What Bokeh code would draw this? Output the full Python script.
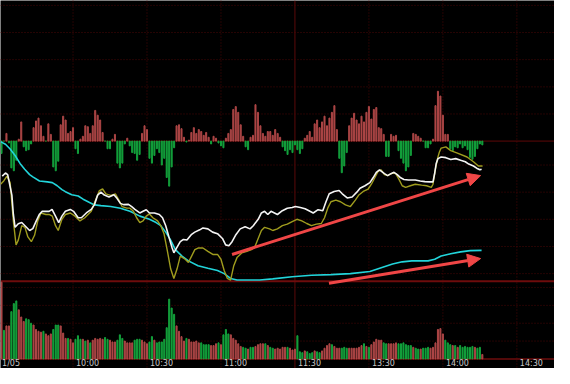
from bokeh.plotting import figure
from bokeh.models import Range1d, Span, Arrow, NormalHead, ColumnDataSource
from bokeh.core.properties import value
from bokeh.embed import file_html
from bokeh.resources import INLINE

# ---------------- data ----------------
label_minutes = [0, 30, 60, 90, 120, 150, 180, 210]
time_labels = ["1/05", "10:00", "10:30", "11:00", "11:30", "13:30", "14:00", "14:30"]

# oscillator histogram, one value per minute (t = 1 .. 196)
hist_vals = [
    -13, 0, 8, -2, -28, -31, -20, 2, 20, -6,
    -10, -9, -3, 14, 21, 24, 16, 5, 0, 18,
    7, -27, -31, -21, 17, 26, 22, 8, 10, 14,
    -8, -13, 2, 5, 16, 15, 8, 16, 32, 27,
    22, 9, 0, -8, -8, 2, 7, -23, -28, -23,
    -3, 3, -5, -12, -13, -20, -14, 8, 16, 12,
    -18, -23, -15, -8, -12, -25, -18, -38, -47, -27,
    -7, 16, 17, 13, 4, -1, 1, 9, 14, 8,
    12, 10, 6, 9, 4, -3, 5, 3, -2, -5,
    -7, 3, 8, 12, 33, 36, 30, 17, 5, -6,
    -9, 4, 6, 38, 30, 16, 8, 5, 10, 10,
    6, 12, 8, 4, -6, -10, -14, -9, -12, -4,
    -9, -13, -8, 3, 6, 10, 4, 18, 22, 14,
    20, 26, 16, 24, 30, 37, 12, -18, -33, -26,
    -12, 16, 24, 29, 22, 18, 26, 20, 30, 36,
    23, 33, 35, 14, 13, 7, -16, -16, 7, 5,
    6, -10, -18, -23, -31, -27, -15, 8, 7, 5,
    3, 0, -7, -7, -3, 2, 37, 52, 47, 27,
    7, 7, -8, -10, -6, -7, -3, -7, -5, -9,
    -17, -19, -16, -8, -3, -4,
]

# volume per minute and bar direction (1 = up / red, -1 = down / green)
vol_vals = [
    86, 32, 37, 37, 53, 62, 65, 55, 47, 42,
    45, 44, 40, 38, 33, 31, 30, 31, 28, 26,
    28, 33, 38, 38, 37, 29, 23, 23, 22, 18,
    22, 26, 22, 22, 20, 21, 18, 21, 23, 22,
    23, 22, 24, 22, 21, 19, 19, 21, 27, 23,
    20, 18, 18, 18, 21, 22, 22, 21, 19, 17,
    19, 25, 21, 18, 19, 19, 22, 35, 67, 57,
    50, 37, 31, 25, 20, 23, 22, 19, 19, 20,
    18, 18, 16, 16, 16, 15, 15, 17, 18, 16,
    27, 33, 28, 27, 23, 21, 17, 14, 13, 12,
    11, 13, 13, 14, 16, 17, 17, 17, 15, 13,
    12, 11, 12, 11, 13, 13, 13, 12, 10, 11,
    26, 8, 7, 9, 8, 6, 7, 9, 8, 7,
    9, 12, 15, 17, 16, 14, 12, 12, 12, 13,
    12, 12, 12, 12, 12, 13, 15, 17, 14, 13,
    16, 19, 22, 21, 21, 18, 17, 17, 17, 17,
    18, 17, 17, 18, 16, 15, 15, 13, 12, 11,
    11, 12, 12, 13, 12, 13, 18, 33, 34, 28,
    21, 18, 16, 15, 15, 13, 15, 13, 14, 13,
    13, 14, 13, 12, 13, 5,
]
vol_dir = [
    1, -1, 1, 1, -1, -1, -1, 1, 1, 1,
    -1, -1, -1, 1, 1, 1, 1, -1, 1, 1,
    1, -1, -1, -1, 1, 1, 1, -1, 1, 1,
    -1, -1, -1, 1, -1, 1, -1, 1, 1, 1,
    1, 1, -1, -1, 1, 1, 1, -1, -1, -1,
    1, 1, 1, 1, -1, -1, -1, 1, 1, 1,
    -1, -1, 1, -1, -1, -1, -1, -1, -1, -1,
    -1, 1, 1, 1, 1, -1, 1, 1, 1, 1,
    1, -1, -1, -1, -1, 1, 1, 1, -1, 1,
    -1, -1, -1, 1, 1, 1, 1, 1, -1, -1,
    1, -1, -1, 1, 1, 1, 1, -1, 1, -1,
    -1, 1, 1, 1, 1, 1, -1, 1, 1, 1,
    -1, -1, -1, 1, -1, -1, -1, 1, -1, -1,
    1, 1, 1, 1, -1, 1, 1, 1, -1, -1,
    -1, 1, 1, 1, 1, 1, 1, -1, 1, -1,
    1, 1, 1, 1, 1, -1, -1, 1, 1, 1,
    1, -1, -1, -1, -1, -1, -1, 1, -1, -1,
    1, -1, -1, -1, 1, 1, 1, 1, 1, 1,
    -1, -1, -1, 1, -1, 1, -1, -1, -1, -1,
    -1, -1, 1, -1, -1, 1,
]

# price line (white), fast average (olive), slow average (cyan): minute, level
white_t = [1.3, 2.6, 3.5, 5.2, 5.8, 6.5, 7.8, 9.2, 10.5, 12.4,
           13.7, 15.1, 16.4, 17.5, 20.3, 21.5, 22.9, 24.2, 25.5, 26.9,
           28.9, 30.2, 32.1, 33.4, 35.4, 37.4, 38.7, 40.0, 41.3, 42.7,
           44.6, 46.6, 47.9, 49.2, 50.5, 52.5, 53.8, 55.1, 57.1, 58.4,
           59.7, 61.0, 63.0, 65.0, 66.3, 67.6, 68.9, 70.2, 70.9, 72.2,
           73.5, 74.8, 76.2, 78.1, 79.4, 81.4, 82.7, 84.7, 86.6, 88.6,
           90.6, 91.9, 93.2, 94.5, 95.9, 97.8, 99.8, 101.8, 103.1, 105.1,
           106.4, 107.7, 109.0, 110.3, 112.9, 114.9, 116.9, 118.9, 120.2, 122.2,
           124.1, 126.1, 127.4, 129.4, 131.3, 132.6, 133.9, 135.9, 137.9, 139.2,
           141.2, 143.2, 145.1, 146.4, 148.4, 150.4, 151.7, 153.0, 154.3, 156.3,
           157.6, 158.9, 160.2, 161.5, 162.9, 164.2, 166.1, 168.8, 170.8, 172.7,
           174.7, 176.0, 176.7, 177.3, 178.0, 179.3, 181.2, 183.2, 185.2, 187.2,
           189.1, 190.5, 192.4, 193.7, 195.0, 195.7]
white_v = [109.7, 113, 111.3, 90, 70, 56.3, 60, 61.3, 58, 53,
           55, 63, 70, 73, 73, 75, 68, 61.3, 68, 73,
           75, 73, 66.3, 66.3, 71.3, 75, 80, 90, 93, 90,
           88, 90.3, 86.3, 81.3, 80, 80.3, 78, 75, 71.3, 73,
           74.7, 71.3, 71.3, 69.7, 66.3, 58, 46.3, 34.7, 29.7, 35.7,
           41.3, 43.7, 43, 49, 51.3, 53.7, 55.7, 54.7, 51.3, 49.7,
           44.7, 38, 37, 41.3, 48, 54.7, 57, 54.7, 58, 64.7,
           71.3, 73, 69.7, 73, 69.7, 73.7, 76.3, 77, 78, 77,
           75.7, 73, 71.3, 74.7, 73.7, 83, 91.3, 93.7, 94.7, 91.3,
           87, 88, 93, 97, 99.7, 103, 108, 113.7, 116.3, 112.3,
           110.3, 112.3, 113.7, 111.3, 108, 106.3, 105.7, 105.7, 104.7, 104,
           103.7, 103.7, 113, 123, 128, 129.7, 129, 127, 128, 126.3,
           124.7, 122.3, 120.3, 118, 116.3, 117]

yellow_t = [0.6, 1.9, 3.2, 4.5, 5.8, 6.9, 7.8, 9.2, 10.5, 11.7,
            13.1, 14.4, 15.7, 17.0, 19.0, 20.3, 21.6, 22.9, 24.0, 25.5,
            26.9, 28.9, 30.8, 32.8, 34.8, 37.4, 39.4, 40.7, 42.0, 43.3,
            45.3, 47.2, 48.6, 49.9, 51.8, 53.1, 54.5, 55.8, 57.1, 58.4,
            59.7, 61.0, 62.4, 64.3, 65.6, 66.9, 68.3, 69.6, 70.9, 72.2,
            73.5, 75.5, 76.8, 78.1, 79.4, 80.7, 82.7, 84.7, 86.7, 88.6,
            90.0, 91.3, 92.6, 93.9, 95.2, 96.5, 98.5, 100.5, 102.4, 103.8,
            105.1, 106.4, 107.7, 109.7, 111.0, 112.9, 114.9, 116.9, 118.9, 120.8,
            122.8, 124.8, 126.7, 128.7, 130.7, 132.0, 133.3, 134.6, 136.6, 138.5,
            140.5, 142.5, 144.5, 145.8, 147.7, 149.7, 151.0, 152.4, 153.7, 155.0,
            156.3, 157.6, 159.6, 160.9, 162.2, 163.5, 164.9, 166.8, 168.8, 171.4,
            173.4, 175.3, 176.0, 176.9, 178.0, 178.6, 179.3, 181.2, 183.2, 185.9,
            189.8, 192.4, 194.4, 196.1]
yellow_v = [101.3, 104.7, 109.7, 103, 63, 38, 43, 58, 56.3, 46.3,
            41.3, 48, 63, 71.3, 69.7, 69.7, 68, 58, 53, 64.7,
            69.7, 71.3, 68, 63, 66.3, 73, 86.3, 94.7, 96.3, 91.3,
            89.7, 91.3, 84.7, 78, 76.3, 76.3, 73, 66.3, 61.3, 63,
            68, 70.3, 66.3, 63, 58, 49.7, 31.3, 13, 3, 13,
            26.3, 23, 19.7, 26.3, 33, 34.7, 34.7, 31.3, 28, 28,
            23, 11.3, 3, 1.3, 16.3, 24.7, 29.7, 31.3, 33, 36.3,
            44.7, 53, 56.3, 54.7, 53, 54.7, 58, 59.7, 62.3, 64.7,
            63, 60.3, 58, 59.7, 60.3, 66.3, 76.3, 83, 84.7, 83,
            79.7, 78, 84.7, 89.7, 93.7, 96.3, 101.3, 108, 114.7, 116.3,
            111.3, 110.3, 113, 112.3, 106.3, 99.7, 98, 99.7, 101.3, 100.3,
            99.7, 98, 101.3, 116.3, 129.7, 135, 139, 140.3, 136.3, 133.7,
            129.7, 124.7, 120.3, 120.3]

cyan_t = [0.6, 2.6, 4.5, 6.5, 8.5, 10.4, 12.4, 13.7, 16.4, 19.6,
          21.6, 23.6, 25.5, 26.9, 29.5, 32.1, 34.1, 36.7, 38.7, 41.3,
          45.3, 49.2, 53.1, 57.1, 61.0, 63.7, 65.6, 67.6, 69.6, 71.5,
          74.2, 76.8, 80.7, 84.7, 88.6, 91.3, 93.9, 96.5, 105.7, 111.0,
          118.9, 126.7, 134.6, 142.5, 150.4, 155.6, 159.6, 163.5, 167.4, 174.0,
          176.7, 179.3, 183.2, 187.2, 191.1, 195.7]
cyan_v = [145.7, 143, 138, 131.3, 123, 117, 111.3, 109, 104.7, 103.7,
          103, 99.7, 95.7, 93.5, 90.3, 89, 85.7, 82.3, 79.7, 79,
          78, 76.3, 73, 68, 64.7, 61.3, 58, 51.3, 43, 33,
          26.3, 21.3, 16.3, 13.7, 11.3, 8, 3, 1.3, 1.3, 2.5,
          4.7, 6.3, 7, 8, 10.3, 14.7, 18, 20.3, 21.3, 21.3,
          23, 26.3, 28.7, 30.7, 32, 32.3]

# hand-drawn trend arrows: (start minute, start level, end minute, end level)
trend_arrows = [
    (94.5, 28.0, 195.3, 110.3),
    (133.8, -2.0, 195.3, 23.7),
]

# grid levels
hist_grid = [28.3, 56.6, 85.0, 113.3, 141.6]
level_grid = [8.0, 36.3, 64.7, 93.0, 121.3]
vol_grid = [20, 40, 60, 80]

# ---------------- styling ----------------
RED = "#ad4646"
GREEN = "#13a23c"
GRID = "#4a0606"
SEP = "#6e0c0c"

p = figure(width=554, height=368,
           x_range=Range1d(0.59, 225.27), y_range=Range1d(-91, 293),
           x_axis_location=None, y_axis_location=None,
           output_backend="svg", toolbar_location=None,
           min_border=0, background_fill_color="black",
           border_fill_color="black", outline_line_color=None)
p.xgrid.visible = False
p.ygrid.visible = False
p.extra_y_ranges = {"hist": Range1d(-237.3, 146.7),
                    "vol": Range1d(-10.74, 401.7)}

# grid lines
for m in label_minutes[1:]:
    solid = (m == 120)
    p.add_layout(Span(location=m, dimension="height",
                      line_color="#5a0a0a" if solid else GRID,
                      line_dash="solid" if solid else "1 2",
                      line_width=1, level="underlay"))
for g in hist_grid:
    p.add_layout(Span(location=g, dimension="width", y_range_name="hist",
                      line_color=GRID, line_dash="1 2", level="underlay"))
p.add_layout(Span(location=0, dimension="width", y_range_name="hist",
                  line_color="#5e0808", line_width=1, level="underlay"))
for g in level_grid:
    p.add_layout(Span(location=g, dimension="width",
                      line_color=GRID, line_dash="1 2", level="underlay"))
for g in vol_grid:
    p.add_layout(Span(location=g, dimension="width", y_range_name="vol",
                      line_color=GRID, line_dash="1 2", level="underlay"))
p.add_layout(Span(location=0, dimension="width",
                  line_color=SEP, line_width=2, level="underlay"))
p.add_layout(Span(location=0, dimension="width", y_range_name="vol",
                  line_color=SEP, line_width=1.5, level="underlay"))

# histogram
minutes = list(range(1, len(hist_vals) + 1))
hsrc = ColumnDataSource(dict(t=minutes, v=hist_vals,
                             c=[RED if v > 0 else GREEN for v in hist_vals]))
p.vbar(x="t", top="v", bottom=0, width=0.42, color="c",
       source=hsrc, y_range_name="hist")

# volume
vmin = list(range(1, len(vol_vals) + 1))
vsrc = ColumnDataSource(dict(t=vmin, v=vol_vals,
                             c=[RED if d > 0 else GREEN for d in vol_dir]))
p.vbar(x="t", top="v", bottom=0, width=0.42, color="c",
       source=vsrc, y_range_name="vol")

# lines
p.line(cyan_t, cyan_v, line_color="#22d4da", line_width=1.6)
p.line(yellow_t, yellow_v, line_color="#9f9c1e", line_width=1.4)
p.line(white_t, white_v, line_color="#f4f4f4", line_width=1.6)

# arrows
for (x0, y0, x1, y1) in trend_arrows:
    p.add_layout(Arrow(x_start=x0, y_start=y0, x_end=x1, y_end=y1,
                       line_color="#f04646", line_width=3,
                       end=NormalHead(size=13, fill_color="#f04646",
                                      line_color="#f04646")))

# time labels along the bottom
p.text(x=label_minutes, y=[-9.8] * len(label_minutes), text=time_labels,
       y_range_name="vol", text_font=value("DejaVu Sans"),
       text_font_size="8px", text_color="#c8c8c8",
       text_baseline="bottom", text_align="left", x_offset=3)

open("out.html", "w").write(file_html(p, INLINE))
